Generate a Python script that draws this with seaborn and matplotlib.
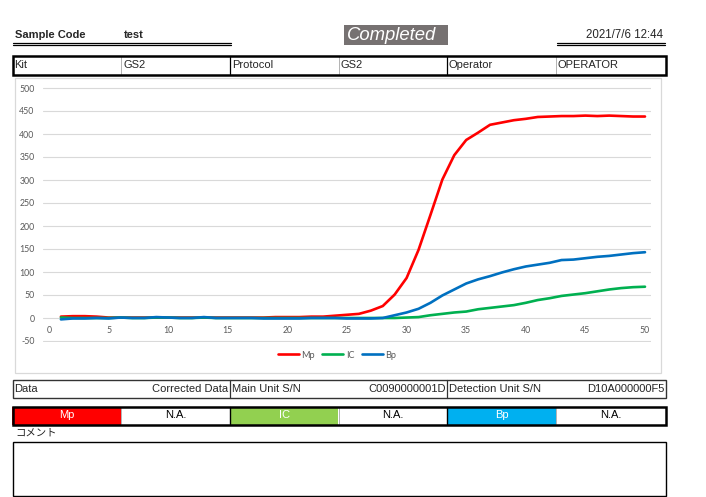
import matplotlib
matplotlib.use("Agg")
import matplotlib.pyplot as plt
import seaborn as sns
import pandas as pd
from matplotlib.patches import Rectangle
from matplotlib.lines import Line2D

# ---------------- data ----------------
cycles = list(range(1, 51))
mp = [3, 4, 4, 3, 1, 1, 1, 1, 1, 1,
      1, 1, 1, 1, 1, 1, 1, 1, 2, 2,
      2, 3, 3, 5, 7, 9, 16, 26, 51, 87,
      148, 224, 301, 354, 387, 403, 420, 425, 430, 433,
      437, 438, 439, 439, 440, 439, 440, 439, 438, 438]
ic = [1, 0, 0, 0, 0, 1, 0, 0, 1, 1,
      0, 0, 1, 0, 0, 0, 0, 0, 0, 0,
      0, 0, 0, 0, 0, 0, 0, 0, 0, 1,
      2, 6, 9, 12, 14, 19, 22, 25, 28, 33,
      39, 43, 48, 51, 54, 58, 62, 65, 67, 68]
bp = [-3, -1, -1, 0, -1, 1, 0, 0, 2, 1,
      0, 0, 2, 0, 0, 0, 0, -1, -1, -1,
      -1, 0, 0, 0, -1, -1, -1, 0, 6, 12,
      20, 33, 49, 62, 75, 84, 91, 99, 106, 112,
      116, 120, 126, 127, 130, 133, 135, 138, 141, 143]
series_names = ["Mp", "IC", "Bp"]
series_colors = ["#FF0000", "#00B050", "#0070C0"]
x_ticks = [0, 5, 10, 15, 20, 25, 30, 35, 40, 45, 50]
y_ticks = [-50, 0, 50, 100, 150, 200, 250, 300, 350, 400, 450, 500]

sample_label = "Sample Code"
sample_value = "test"
status_text = "Completed"
date_text = "2021/7/6 12:44"
info_cells = ["Kit", "GS2", "Protocol", "GS2", "Operator", "OPERATOR"]
data_labels = ["Data", "Main Unit S/N", "Detection Unit S/N"]
data_values = ["Corrected Data", "C0090000001D", "D10A000000F5"]
result_cells = ["Mp", "N.A.", "IC", "N.A.", "Bp", "N.A."]
result_fills = ["#FF0000", "#FFFFFF", "#92D050", "#FFFFFF", "#00B0F0", "#FFFFFF"]
result_text_colors = ["white", "black", "white", "black", "white", "black"]
comment_label = "コメント"

df = pd.DataFrame({
    "cycle": cycles * 3,
    "value": mp + ic + bp,
    "series": [series_names[0]] * len(mp) + [series_names[1]] * len(ic) + [series_names[2]] * len(bp),
})

# ---------------- figure ----------------
sns.set_style("white")
plt.rcParams["font.family"] = ["Liberation Sans", "Noto Sans CJK JP", "DejaVu Sans"]
plt.rcParams["axes.unicode_minus"] = False

W, H = 706, 497
fig = plt.figure(figsize=(W / 100, H / 100), dpi=100)
fig.patch.set_facecolor("white")


def fx(x):
    return x / W


def fy(y):
    return 1 - y / H


def rect(x0, y0, x1, y1, fc="none", ec="black", lw=1.0, z=1):
    fig.add_artist(Rectangle((fx(x0), fy(y1)), (x1 - x0) / W, (y1 - y0) / H,
                             transform=fig.transFigure, facecolor=fc, edgecolor=ec,
                             linewidth=lw, zorder=z))


def hline(x0, x1, y, color="black", lw=1.0, z=3):
    fig.add_artist(Line2D([fx(x0), fx(x1)], [fy(y), fy(y)], transform=fig.transFigure,
                          color=color, linewidth=lw, zorder=z))


def vline(x, y0, y1, color="black", lw=1.0, z=3):
    fig.add_artist(Line2D([fx(x), fx(x)], [fy(y0), fy(y1)], transform=fig.transFigure,
                          color=color, linewidth=lw, zorder=z))


def text(x, y, s, **kw):
    kw.setdefault("va", "center")
    kw.setdefault("fontsize", 8)
    fig.text(fx(x), fy(y), s, **kw)


# ---------------- header ----------------
text(15, 35, sample_label, fontweight="bold")
text(124, 35, sample_value, fontweight="bold")
hline(12.5, 231, 43.3, lw=0.9)
hline(12.5, 231, 45.4, lw=0.9)

rect(344, 25, 448, 45, fc="#767171", ec="none", z=2)
text(392, 35.5, status_text, ha="center", color="white", fontsize=13.3, fontstyle="italic", zorder=4)

text(663, 35, date_text, ha="right", fontsize=8.3)
hline(557, 664.5, 43.3, lw=0.9)
hline(557, 664.5, 45.4, lw=0.9)

# ---------------- info table ----------------
cols = [12, 121, 230, 338.5, 447, 556, 665.5]
for i, s in enumerate(info_cells):
    text(cols[i] + 2, 65, s)
for i in (1, 3, 5):
    vline(cols[i], 56, 74, color="#A6A6A6", lw=0.6)
for i in (2, 4):
    vline(cols[i], 56, 74, color="black", lw=0.9)
rect(12.5, 55.8, 665.5, 74.5, ec="black", lw=1.8, z=4)

# ---------------- chart ----------------
rect(14.5, 78, 661, 373, ec="#D9D9D9", lw=0.9, z=0)

ylo, yhi = -52, 502
ppu = 0.46
ax_top = 318 - yhi * ppu
ax_bot = 318 - ylo * ppu
ax = fig.add_axes([fx(43.04), fy(ax_bot), (650.96 - 43.04) / W, (ax_bot - ax_top) / H])
ax.set_facecolor("none")

sns.lineplot(data=df, x="cycle", y="value", hue="series", hue_order=series_names,
             palette=dict(zip(series_names, series_colors)), linewidth=1.9, ax=ax,
             legend=True)

ax.set_xlim(-0.5, 50.5)
ax.set_ylim(ylo, yhi)
ax.set_xticks(x_ticks)
ax.set_yticks(y_ticks)
ax.set_xlabel("")
ax.set_ylabel("")
ax.yaxis.grid(True, color="#D9D9D9", linewidth=0.8)
ax.xaxis.grid(False)
ax.set_axisbelow(True)
for sp in ax.spines.values():
    sp.set_visible(False)
ax.spines["bottom"].set_position(("data", 0))
ax.tick_params(axis="both", length=0, labelsize=6.3, labelcolor="#595959")
ax.tick_params(axis="x", pad=6)
ax.tick_params(axis="y", pad=6)
for lab in ax.get_xticklabels() + ax.get_yticklabels():
    lab.set_fontfamily(["Lato", "DejaVu Sans"])

sns.move_legend(ax, "center", bbox_to_anchor=(fx(337), fy(355)),
                bbox_transform=fig.transFigure, ncol=3, frameon=False, title=None,
                fontsize=6.6, handlelength=2.3, handletextpad=0.25, columnspacing=0.8)
leg = ax.get_legend()
for t in leg.get_texts():
    t.set_color("#595959")
    t.set_fontfamily(["Lato", "DejaVu Sans"])
for h in leg.get_lines():
    h.set_linewidth(1.9)

# ---------------- data table ----------------
dcols = [12.5, 230, 447, 665.5]
for i in range(3):
    text(dcols[i] + 2, 389, data_labels[i])
    text(dcols[i + 1] - 1.5, 389, data_values[i], ha="right")
for i in (1, 2):
    vline(dcols[i], 380, 397.5, color="#333333", lw=0.9)
rect(12.5, 380, 665.5, 397.5, ec="#333333", lw=1.0, z=4)

# ---------------- result table ----------------
for i, s in enumerate(result_cells):
    rect(cols[i], 406.5, cols[i + 1], 424.5, fc=result_fills[i], ec="none", z=2)
    text((cols[i] + cols[i + 1]) / 2, 415.5, s, ha="center", color=result_text_colors[i], zorder=5)
for i in (1, 3, 5):
    vline(cols[i], 407, 424, color="#A6A6A6", lw=0.6)
for i in (2, 4):
    vline(cols[i], 407, 424, color="black", lw=1.0)
rect(12.5, 406.5, 665.5, 424.5, ec="black", lw=1.8, z=4)

# ---------------- comment ----------------
text(15, 432.5, comment_label, fontsize=7.5, family=["Noto Sans CJK JP", "DejaVu Sans"])
rect(12.5, 442, 665.5, 496, ec="black", lw=1.0, z=4)

fig.savefig("out.png", dpi=100, facecolor="white")
